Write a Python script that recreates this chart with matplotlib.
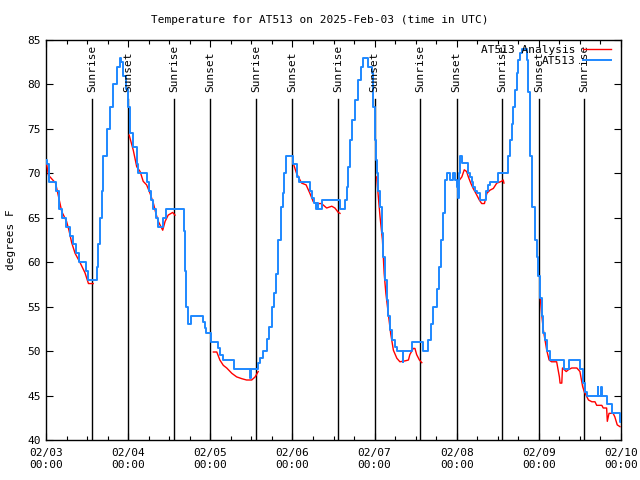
import matplotlib
matplotlib.use("Agg")
import matplotlib.pyplot as plt
import matplotlib.dates as mdates
import matplotlib.transforms as mtransforms
import numpy as np
import pandas as pd

plt.rcParams['font.family'] = ['DejaVu Sans Mono']
plt.rcParams['font.size'] = 8

START = pd.Timestamp('2025-02-03 00:00')

# AT513 observations (hours since start, deg F)
blue_h = [0, 0.2, 1.0, 2.8, 3.8, 4.7, 5.8, 7.0, 7.9, 8.7, 9.7, 11.6, 12.3, 14.0, 14.8, 15.3, 15.8,
          16.3, 16.7, 17.7, 18.7, 19.7, 20.7, 21.6, 21.9, 22.6, 23.4, 24.0, 24.5, 25.5, 26.5, 27.0,
          28.9, 29.4, 30.1, 30.7, 31.3, 32.1, 32.8, 34.1, 34.3, 35.0, 40.1, 40.3, 40.6, 40.9, 41.4,
          41.6, 42.3, 42.4, 45.7, 46.0, 46.5, 46.7, 47.7, 48.1, 50.0, 50.3, 50.8, 51.8, 54.7, 55.0,
          59.3, 59.6, 59.9, 61.6, 62.0, 62.5, 63.5, 64.5, 65.2, 65.9, 66.6, 67.2, 67.9, 68.6, 69.2,
          69.6, 70.1, 71.8, 72.3, 73.2, 73.9, 76.9, 77.1, 77.8, 78.4, 78.8, 79.1, 79.6, 80.5, 85.4,
          85.9, 86.9, 87.4, 87.9, 88.3, 88.8, 89.3, 90.3, 91.2, 91.9, 92.7, 93.9, 94.2, 95.2, 95.6,
          96.1, 96.3, 96.6, 97.1, 97.6, 98.1, 98.5, 99.0, 99.5, 100.0, 100.5, 101.2, 102.0, 102.5,
          103.9, 104.2, 104.4, 106.6, 106.8, 109.8, 110.1, 111.2, 111.7, 112.4, 113.2, 114.2, 114.9,
          115.4, 116.1, 116.6, 117.1, 118.0, 118.8, 119.5, 120.0, 120.3, 120.7, 121.0, 121.5, 122.9,
          123.4, 123.9, 124.4, 124.8, 125.3, 125.8, 126.8, 128.3, 128.6, 129.2, 129.7, 131.7, 132.1,
          134.6, 135.0, 135.6, 136.1, 136.5, 137.0, 137.5, 138.0, 138.5, 139.0, 139.9, 140.4, 140.9,
          141.4, 141.9, 142.9, 143.4, 143.8, 144.3, 144.8, 145.3, 145.8, 146.5, 147.3, 151.1, 151.2,
          152.6, 152.8, 155.7, 156.0, 156.8, 157.5, 158.0, 160.9, 161.2, 161.4, 162.2, 162.5, 163.8,
          164.0, 165.3, 165.5, 167.5, 167.7, 168.0]
blue_t = [71.5, 71, 69, 68, 66, 65, 64, 63, 62, 61, 60, 59, 58, 58, 59.5, 62, 65,
          68, 72, 75, 77.5, 80, 82, 83, 82.5, 81, 79.5, 77.5, 74.5, 73, 71, 70,
          70, 69, 68, 67, 66, 65, 64, 64, 65, 66, 66, 63.5, 59, 55, 53.5,
          53, 53, 54, 54, 53.3, 52.6, 52, 52, 51, 51, 50.4, 49.6, 49, 49, 48,
          48, 47, 48, 48, 48.7, 49.2, 50, 51.4, 52.7, 55, 56.5, 58.7, 62.5, 66.2, 67.8,
          70, 72, 72, 71, 69.6, 69, 69, 68, 67.2, 66.7, 66, 66.7, 66, 67, 67,
          66, 66, 67, 68.5, 70.7, 73.7, 76, 78.2, 80.5, 82, 83, 83, 82, 81.3, 77.5,
          73.7, 71.5, 70, 68, 66.2, 63.3, 60.6, 58, 55.7, 53.9, 52.4, 51.2, 50.5, 50,
          50, 48.8, 50, 50, 51, 51, 50, 50, 51.2, 53, 55, 57, 59.5,
          62.5, 65.5, 69.2, 70, 69.2, 70, 69.2, 68.5, 67.2, 70, 72, 71.2, 71.2,
          70, 69.6, 69, 68.5, 68, 67.8, 67, 67, 68, 68.7, 69, 69, 70,
          70, 72, 73.7, 75.6, 77.5, 79.4, 81.3, 82.7, 83.5, 84, 84, 82.7, 79.2,
          72, 66.2, 62.5, 60.6, 58.4, 56, 54, 52, 51.2, 50, 49, 49, 48,
          48, 49, 49, 48, 46.4, 45.4, 45, 45, 46, 45, 46, 45, 45,
          44, 44, 43, 43, 42, 42]

# AT513 Analysis (night-time segments), hours since start, deg F
red_h = [0.2, 0.7, 2.8, 4.1, 4.6, 6.0, 6.7, 7.5, 8.5, 9.9, 11.4, 12.4, 13.8, None,
         24.3, 25.5, 26.5, 27.5, 28.4, 29.4, 30.4, 31.4, 32.1, 32.8, 34.1, 34.8, 35.7, 37.0, 37.7, None,
         48.9, 49.9, 50.8, 51.8, 52.8, 54.3, 55.7, 57.2, 58.6, 60.1, 61.1, 62.0, None,
         72.1, 73.2, 74.7, 76.0, 77.1, 78.1, 79.1, 80.5, 82.0, 83.5, 84.4, 85.4, 85.9, None,
         96.6, 97.6, 98.3, 98.8, 99.3, 100.0, 100.7, 101.5, 102.5, 103.4, 104.9, 105.9, 106.3,
         107.3, 107.8, 108.3, 109.1, 109.8, None,
         120.8, 121.5, 122.2, 122.9, 123.4, 124.1, 124.8, 125.6, 126.6, 127.3, 128.1, 128.8, 129.7,
         130.7, 131.7, 133.1, 133.6, 133.8, None,
         144.3, 144.8, 145.3, 145.8, 146.3, 147.0, 147.7, 149.2, 150.0, 150.2, 150.7, 150.9, 152.0,
         152.6, 153.6, 155.1, 156.0, 156.8, 157.3, 158.5, 159.5, 160.4, 160.9, 162.4, 162.8, 163.8,
         164.0, 164.5, 165.7, 166.2, 166.9, 167.7]
red_t = [71, 69.8, 68.9, 66.6, 65.7, 64.6, 63.6, 62.2, 61, 60, 58.8, 57.6, 57.6, None,
         74.3, 72.6, 70.75, 70.2, 69.1, 68.7, 67.75, 66.6, 65.5, 64.6, 63.6, 64.6, 65.3, 65.6, 65.3, None,
         49.9, 49.9, 49, 48.4, 48.1, 47.5, 47.1, 46.9, 46.75, 46.75, 47.1, 47.7, None,
         71.3, 70, 68.9, 68.7, 67.75, 66.8, 66.6, 66.6, 66.1, 66.3, 66.1, 65.6, 65.5, None,
         69.6, 65.1, 62.5, 58.75, 56.5, 54.25, 52, 50.1, 49.2, 48.8, 48.9, 49, 49.6,
         50.3, 50.3, 49.6, 49, 48.7, None,
         69.25, 69.6, 70.4, 70.2, 69.6, 68.9, 68.3, 67.75, 67, 66.6, 66.6, 67.75, 68.1,
         68.3, 68.9, 69.1, 69.25, 68.9, None,
         56.5, 54.25, 52.4, 51.25, 50.1, 49, 48.8, 48.8, 47.1, 46.4, 46.4, 48.1, 47.7,
         47.9, 48.1, 48.1, 47.7, 46, 45.4, 44.5, 44.3, 44.3, 43.9, 43.9, 43.6, 43.6,
         42.1, 43, 43, 42.6, 41.7, 41.5]

sunrise_h = [13.4, 37.4, 61.4, 85.4, 109.3, 133.3, 157.3]
sunset_h = [24.0, 48.0, 72.0, 96.0, 120.0, 144.0]

blue_x = pd.to_datetime([START + pd.Timedelta(hours=h) for h in blue_h])
red_x = pd.to_datetime([START + pd.Timedelta(hours=h) if h is not None else pd.NaT for h in red_h])
red_y = [np.nan if v is None else v for v in red_t]

fig = plt.figure(figsize=(6.4, 4.8), dpi=100)
ax = fig.add_axes([46/640, 40/480, 575/640, 400/480])

ax.plot(red_x, red_y, color='#ff0000', lw=1.0, label='AT513 Analysis', zorder=3)
ax.plot(blue_x, blue_t, color='#1e88ff', lw=1.4, drawstyle='steps-post', label='AT513', zorder=4)

trans = mtransforms.blended_transform_factory(ax.transData, ax.transAxes)
for name, hrs in (('Sunrise', sunrise_h), ('Sunset', sunset_h)):
    for h in hrs:
        t = mdates.date2num(START + pd.Timedelta(hours=h))
        ax.plot([t, t], [0, 0.852], color='black', lw=1.0, transform=trans, zorder=2)
        ax.text(t, 0.87, name, rotation=90, ha='center', va='bottom', transform=trans,
                fontsize=8, zorder=5)

ax.set_xlim(START, START + pd.Timedelta(days=7))
ax.set_ylim(40, 85)
ax.set_yticks(np.arange(40, 86, 5))
ax.xaxis.set_major_locator(mdates.DayLocator())
ax.xaxis.set_major_formatter(mdates.DateFormatter('%m/%d\n%H:%M'))
ax.xaxis.set_minor_locator(mdates.HourLocator(byhour=[6, 12, 18]))
ax.tick_params(which='both', direction='in', top=True, right=True, labelsize=8)
ax.tick_params(which='major', length=5, width=0.8)
ax.tick_params(which='minor', length=3, width=0.8)
ax.tick_params(axis='x', pad=6)
for s in ax.spines.values():
    s.set_linewidth(1.0)

ax.set_ylabel('degrees F', fontsize=8)
ax.yaxis.set_label_coords(-0.052, 0.5)
fig.text(0.5, 1 - 20/480, 'Temperature for AT513 on 2025-Feb-03 (time in UTC)',
         ha='center', va='center', fontsize=8)

leg = ax.legend(loc='upper right', bbox_to_anchor=(0.995, 1.005), frameon=False,
                markerfirst=False, handlelength=2.6, handletextpad=0.6,
                labelspacing=0.1, borderaxespad=0.2, fontsize=8)

fig.savefig('out.png', dpi=100)
